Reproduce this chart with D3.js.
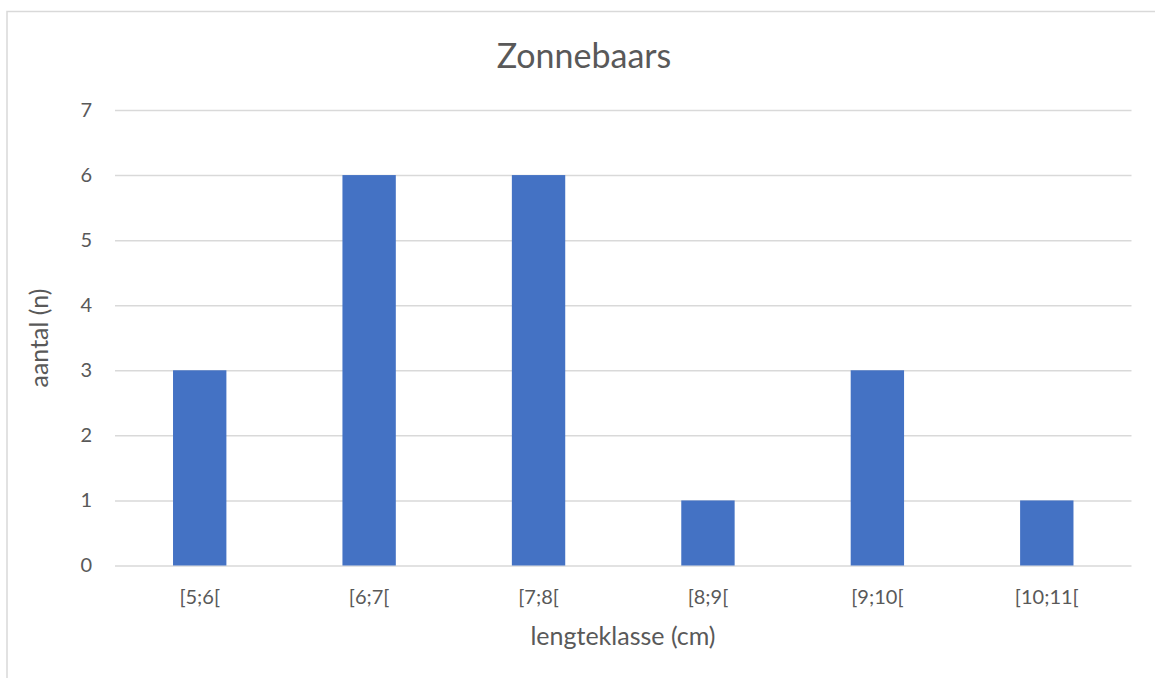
<!DOCTYPE html>
<html>
<head>
<meta charset="utf-8">
<script src="https://cdn.jsdelivr.net/npm/d3@7"></script>
<style>
  html, body { margin: 0; padding: 0; background: #fff; }
  svg { display: block; }
  text { font-family: Lato, "Open Sans", sans-serif; fill: #595959; }
</style>
</head>
<body>
<script>
// Length classes (cm) and number of fish counted in each
const categories = ["[5;6[", "[6;7[", "[7;8[", "[8;9[", "[9;10[", "[10;11["];
const counts = [3, 6, 6, 1, 3, 1];
const yTicks = [0, 1, 2, 3, 4, 5, 6, 7];
const title = "Zonnebaars";
const xTitle = "lengteklasse (cm)";
const yTitle = "aantal (n)";

const W = 1155, H = 678;
const plot = { left: 115, right: 1131.5, top: 110, bottom: 565.5 };

const svg = d3.select("body").append("svg")
  .attr("width", W).attr("height", H);

// chart frame
svg.append("rect")
  .attr("x", 7).attr("y", 11.5)
  .attr("width", W + 10).attr("height", H + 10)
  .attr("fill", "#fff").attr("stroke", "#d9d9d9").attr("stroke-width", 1.5);

const x = d3.scaleBand()
  .domain(categories)
  .range([plot.left, plot.right])
  .paddingInner(0.685)
  .paddingOuter(0.3425);

const y = d3.scaleLinear()
  .domain([0, 7])
  .range([plot.bottom, plot.top]);

// horizontal gridlines + value labels
const yAxis = d3.axisLeft(y)
  .tickValues(yTicks)
  .tickSize(-(plot.right - plot.left))
  .tickPadding(23)
  .tickFormat(d3.format("d"));

const gy = svg.append("g")
  .attr("transform", `translate(${plot.left},0)`)
  .call(yAxis);
gy.select(".domain").remove();
gy.selectAll(".tick line").attr("stroke", "#d9d9d9").attr("stroke-width", 1.5);
gy.selectAll(".tick text")
  .attr("fill", "#595959")
  .style("font-size", "20px");

// bars
svg.append("g").selectAll("rect")
  .data(categories)
  .join("rect")
  .attr("x", d => x(d))
  .attr("width", x.bandwidth())
  .attr("y", (d, i) => y(counts[i]))
  .attr("height", (d, i) => y(0) - y(counts[i]))
  .attr("fill", "#4472c4");

// category labels
const xAxis = d3.axisBottom(x).tickSize(0).tickPadding(24);
const gx = svg.append("g")
  .attr("transform", `translate(0,${plot.bottom})`)
  .call(xAxis);
gx.select(".domain").remove();
gx.selectAll(".tick text")
  .attr("fill", "#595959")
  .style("font-size", "20px");

// titles
svg.append("text")
  .attr("x", 584).attr("y", 68)
  .attr("text-anchor", "middle")
  .style("font-size", "34px")
  .text(title);

svg.append("text")
  .attr("x", 623).attr("y", 645)
  .attr("text-anchor", "middle")
  .style("font-size", "25px")
  .text(xTitle);

svg.append("text")
  .attr("transform", `translate(48,338) rotate(-90)`)
  .attr("text-anchor", "middle")
  .style("font-size", "25px")
  .text(yTitle);
</script>
</body>
</html>
